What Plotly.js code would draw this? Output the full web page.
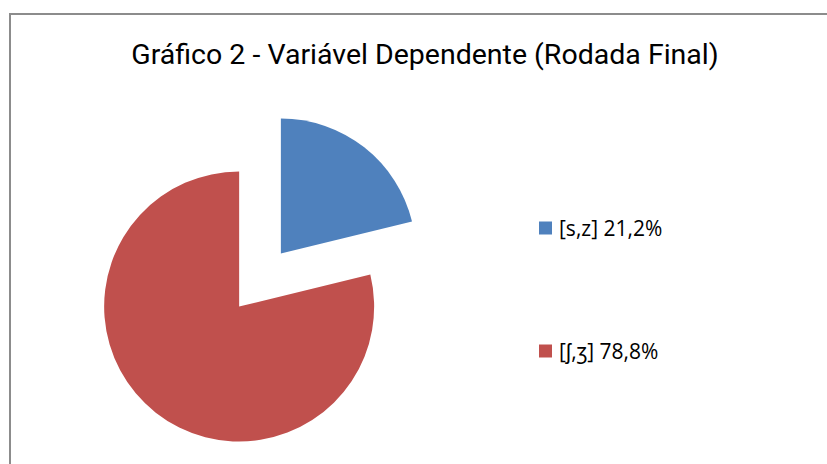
<!DOCTYPE html>
<html>
<head>
<meta charset="utf-8">
<script src="https://cdn.plot.ly/plotly-3.0.1.min.js"></script>
<style>html,body{margin:0;padding:0;background:#fff}#chart{width:827px;height:464px}</style>
</head>
<body>
<div id="chart"></div>
<script>
const categories = ["[s,z]", "[ʃ,ʒ]"];
const values = [21.2, 78.8];
const colors = ["#4F81BD", "#C0504D"];
const chartTitle = "Gráfico 2 - Variável Dependente (Rodada Final)";

const fmt = v => v.toFixed(1).replace('.', ',') + '%';

const trace = {
  type: 'pie',
  labels: categories,
  values: values,
  sort: false,
  direction: 'clockwise',
  rotation: 0,
  pull: [0.25, 0.25],
  marker: {colors: colors, line: {width: 0}},
  textinfo: 'none',
  hoverinfo: 'label+percent',
  showlegend: false,
  domain: {x: [0.11034, 0.51844], y: [0.02, 0.7731]}
};

const legendY = [1 - 228/464, 1 - 351/464];
const annotations = categories.map((c, i) => ({
  xref: 'paper', yref: 'paper', x: 557/827, y: legendY[i],
  xanchor: 'left', yanchor: 'middle', showarrow: false,
  text: c + ' ' + fmt(values[i]),
  font: {family: '"Open Sans", "Noto Sans", sans-serif', size: 21, color: '#000'}
}));
const shapes = categories.map((c, i) => ({
  type: 'rect', xref: 'paper', yref: 'paper',
  x0: 539/827, x1: 552/827, y0: legendY[i] - 6.5/464, y1: legendY[i] + 6.5/464,
  fillcolor: colors[i], line: {width: 0}
}));
shapes.push({
  type: 'rect', xref: 'paper', yref: 'paper',
  x0: 10/827, x1: 1.05, y0: -0.1, y1: 1 - 14/464,
  line: {color: '#8C8C8C', width: 2}, fillcolor: 'rgba(0,0,0,0)'
});

const layout = {
  width: 827, height: 464,
  margin: {l: 0, r: 0, t: 0, b: 0},
  paper_bgcolor: '#fff',
  title: {
    text: chartTitle,
    x: 425/827, xanchor: 'center', xref: 'paper',
    y: 1 - 54/464, yanchor: 'middle', yref: 'container',
    font: {family: 'Roboto, sans-serif', size: 28.5, color: '#000'}
  },
  annotations: annotations,
  shapes: shapes
};

Plotly.newPlot('chart', [trace], layout, {displayModeBar: false, staticPlot: true});
</script>
</body>
</html>
